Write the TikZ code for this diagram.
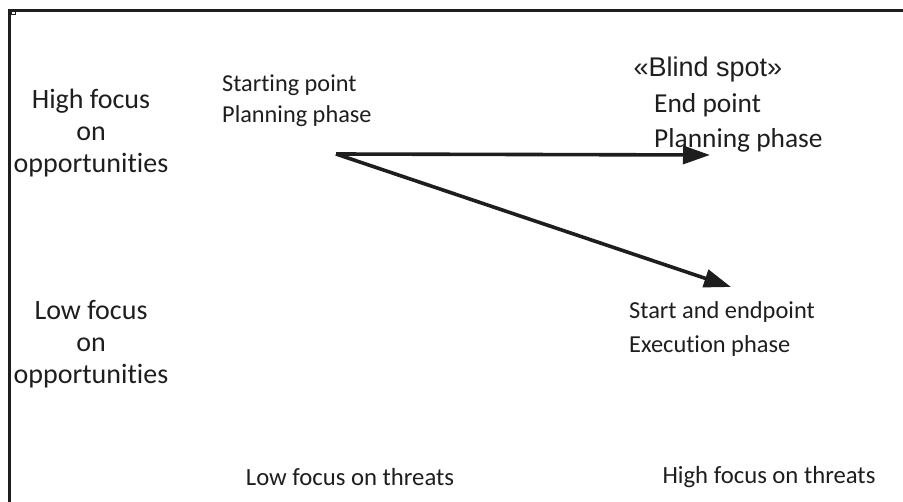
\documentclass[tikz,border=0pt]{standalone}
\usepackage{fontspec}
\setmainfont[Ligatures=NoCommon]{Carlito}
\newfontfamily\arialf{Liberation Sans}
\usetikzlibrary{arrows.meta}
\definecolor{ink}{HTML}{1E1E1E}
\tikzset{
  lbl/.style={inner sep=0pt, text=ink, align=center},
  lbll/.style={inner sep=0pt, text=ink, align=left, anchor=west},
  arr/.style={line width=3.6pt, draw=ink, -{Triangle[length=27pt,width=18pt]}},
  frame/.style={line width=3pt, draw=ink}
}
\begin{document}
\begin{tikzpicture}[x=1pt,y=-1pt]
\useasboundingbox (0,0) rectangle (903,502);
\draw[frame] (9.5,502) -- (9.5,10.5) -- (903,10.5);
\draw[ink, line width=1pt] (11,12) rectangle (15,15);
\node[lbl, font=\fontsize{28}{32}\selectfont] (hfo) at (91,133) {High focus\\on\\opportunities};
\node[lbl, font=\fontsize{28}{32}\selectfont] (lfo) at (91,344) {Low focus\\on\\opportunities};
\node[lbll, font=\fontsize{24.3}{31}\selectfont] (sp) at (222,101) {Starting point\\Planning phase};
\node[lbl, font=\arialf\fontsize{27}{32}\selectfont] (bs) at (708,70) {«Blind spot»};
\node[lbll, font=\fontsize{27.4}{35}\selectfont] (ep) at (654,123) {End point\\Planning phase};
\node[lbll, font=\fontsize{24.4}{34}\selectfont] (se) at (629,329) {Start and endpoint\\Execution phase};
\node[lbl, font=\fontsize{24.7}{30}\selectfont] (lft) at (350,477) {Low focus on threats};
\node[lbl, font=\fontsize{24.7}{30}\selectfont] (hft) at (769,477) {High focus on threats};
\coordinate (o) at (336,154);
\coordinate (t1) at (710,155);
\coordinate (t2) at (731,287);
\draw[arr] (o) -- (t1);
\draw[arr] (o) -- (t2);
\end{tikzpicture}
\end{document}
